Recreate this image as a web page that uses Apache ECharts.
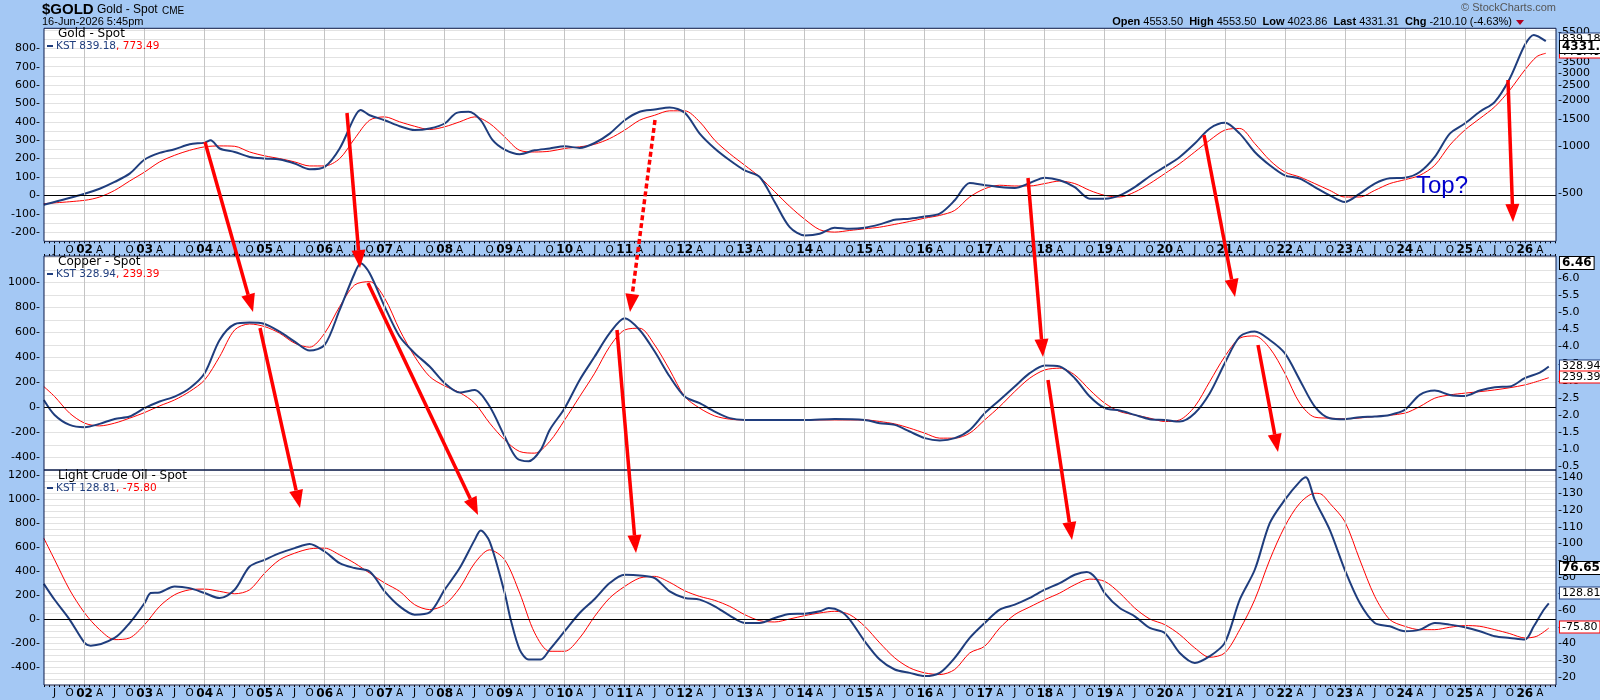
<!DOCTYPE html>
<html><head><meta charset="utf-8">
<script src="https://cdn.jsdelivr.net/npm/echarts@6/dist/echarts.min.js"></script>
<style>html,body{margin:0;padding:0;background:#a4c8f4}#c{width:1600px;height:700px}</style>
</head><body><div id="c"></div>
<script>
// ---------- DATA ----------
const goldKst = [[2001.32,-51],[2002.0,9],[2002.25,36],[2002.5,73],[2002.75,118],[2003.0,195],[2003.25,231],[2003.5,251],[2003.75,278],[2004.0,287],[2004.1,300],[2004.25,255],[2004.5,236],[2004.75,209],[2005.0,200],[2005.25,195],[2005.5,173],[2005.75,142],[2006.0,155],[2006.25,255],[2006.5,427],[2006.6,464],[2006.75,436],[2007.0,409],[2007.25,376],[2007.5,355],[2007.75,364],[2008.0,391],[2008.2,449],[2008.4,455],[2008.6,409],[2008.8,300],[2009.0,249],[2009.25,224],[2009.5,245],[2009.75,255],[2010.0,267],[2010.25,258],[2010.5,285],[2010.75,336],[2011.0,409],[2011.25,455],[2011.5,467],[2011.75,478],[2012.0,449],[2012.25,336],[2012.5,255],[2012.75,191],[2013.0,136],[2013.25,100],[2013.5,-36],[2013.75,-173],[2014.0,-218],[2014.25,-209],[2014.5,-176],[2014.75,-182],[2015.0,-176],[2015.25,-158],[2015.5,-133],[2015.75,-127],[2016.0,-115],[2016.25,-100],[2016.5,-27],[2016.75,67],[2017.0,55],[2017.25,45],[2017.5,40],[2017.75,67],[2018.0,96],[2018.25,82],[2018.5,45],[2018.75,-18],[2019.0,-18],[2019.25,0],[2019.5,45],[2019.75,104],[2020.0,155],[2020.25,209],[2020.5,282],[2020.75,364],[2021.0,395],[2021.25,336],[2021.5,236],[2021.75,164],[2022.0,109],[2022.25,91],[2022.5,45],[2022.75,0],[2023.0,-36],[2023.25,9],[2023.5,64],[2023.75,93],[2024.0,96],[2024.25,127],[2024.5,209],[2024.75,336],[2025.0,391],[2025.25,455],[2025.5,509],[2025.75,636],[2026.0,818],[2026.15,873],[2026.35,839]];
const goldSig = [[2001.32,-45],[2002.0,-27],[2002.25,-9],[2002.5,27],[2002.75,78],[2003.0,127],[2003.25,182],[2003.5,218],[2003.75,245],[2004.0,264],[2004.25,269],[2004.5,267],[2004.75,236],[2005.0,215],[2005.25,200],[2005.5,182],[2005.75,160],[2006.0,160],[2006.25,200],[2006.5,309],[2006.75,409],[2007.0,427],[2007.25,400],[2007.5,376],[2007.75,358],[2008.0,373],[2008.25,400],[2008.5,427],[2008.75,391],[2009.0,318],[2009.25,245],[2009.5,236],[2009.75,240],[2010.0,255],[2010.25,264],[2010.5,278],[2010.75,309],[2011.0,355],[2011.25,409],[2011.5,436],[2011.75,460],[2012.0,460],[2012.25,400],[2012.5,300],[2012.75,227],[2013.0,164],[2013.25,100],[2013.5,20],[2013.75,-60],[2014.0,-130],[2014.25,-187],[2014.5,-200],[2014.75,-191],[2015.0,-182],[2015.25,-173],[2015.5,-158],[2015.75,-142],[2016.0,-124],[2016.25,-109],[2016.5,-82],[2016.75,-9],[2017.0,36],[2017.25,55],[2017.5,51],[2017.75,51],[2018.0,64],[2018.25,78],[2018.5,64],[2018.75,27],[2019.0,0],[2019.25,-9],[2019.5,18],[2019.75,64],[2020.0,118],[2020.25,173],[2020.5,236],[2020.75,300],[2021.0,355],[2021.25,364],[2021.5,282],[2021.75,191],[2022.0,127],[2022.25,100],[2022.5,64],[2022.75,27],[2023.0,-9],[2023.25,-9],[2023.5,27],[2023.75,64],[2024.0,85],[2024.25,109],[2024.5,164],[2024.75,273],[2025.0,355],[2025.25,418],[2025.5,482],[2025.75,573],[2026.0,682],[2026.2,755],[2026.35,773]];
const copperKst = [[2001.32,61],[2001.5,-59],[2001.75,-139],[2002.0,-157],[2002.25,-131],[2002.5,-91],[2002.75,-72],[2003.0,-5],[2003.25,48],[2003.5,88],[2003.75,155],[2004.0,275],[2004.25,541],[2004.5,667],[2004.75,680],[2005.0,669],[2005.25,608],[2005.5,528],[2005.75,456],[2006.0,501],[2006.25,781],[2006.5,1075],[2006.6,1155],[2006.75,1075],[2007.0,808],[2007.25,568],[2007.5,435],[2007.75,328],[2008.0,195],[2008.25,120],[2008.5,141],[2008.75,8],[2009.0,-232],[2009.2,-405],[2009.4,-430],[2009.6,-339],[2009.75,-179],[2010.0,-5],[2010.25,221],[2010.5,408],[2010.75,595],[2011.0,715],[2011.25,621],[2011.5,448],[2011.75,248],[2012.0,88],[2012.25,35],[2012.5,-32],[2012.75,-85],[2013.0,-99],[2013.5,-99],[2014.0,-99],[2014.5,-91],[2015.0,-99],[2015.25,-125],[2015.5,-139],[2015.75,-192],[2016.0,-245],[2016.25,-264],[2016.5,-245],[2016.75,-179],[2017.0,-45],[2017.25,61],[2017.5,168],[2017.75,275],[2018.0,336],[2018.25,328],[2018.5,235],[2018.75,88],[2019.0,-5],[2019.25,-24],[2019.5,-59],[2019.75,-93],[2020.0,-99],[2020.25,-112],[2020.5,-45],[2020.75,115],[2021.0,355],[2021.25,568],[2021.5,608],[2021.75,541],[2022.0,435],[2022.25,221],[2022.5,8],[2022.75,-85],[2023.0,-93],[2023.25,-77],[2023.5,-72],[2023.75,-59],[2024.0,-19],[2024.25,101],[2024.5,136],[2024.75,101],[2025.0,93],[2025.25,136],[2025.5,163],[2025.75,168],[2026.0,235],[2026.25,280],[2026.4,329]];
const copperSig = [[2001.32,168],[2001.5,88],[2001.75,-45],[2002.0,-125],[2002.25,-147],[2002.5,-125],[2002.75,-85],[2003.0,-40],[2003.25,13],[2003.5,61],[2003.75,128],[2004.0,221],[2004.25,408],[2004.5,621],[2004.75,669],[2005.0,648],[2005.25,595],[2005.5,515],[2005.75,483],[2006.0,595],[2006.25,808],[2006.5,981],[2006.75,1008],[2007.0,875],[2007.25,621],[2007.5,408],[2007.75,248],[2008.0,173],[2008.25,120],[2008.5,35],[2008.75,-125],[2009.0,-259],[2009.25,-352],[2009.5,-365],[2009.75,-272],[2010.0,-99],[2010.25,88],[2010.5,275],[2010.75,488],[2011.0,621],[2011.25,635],[2011.5,501],[2011.75,301],[2012.0,88],[2012.25,-5],[2012.5,-67],[2012.75,-93],[2013.0,-99],[2014.0,-99],[2015.0,-99],[2015.25,-112],[2015.5,-131],[2015.75,-165],[2016.0,-205],[2016.25,-245],[2016.5,-245],[2016.75,-205],[2017.0,-99],[2017.25,8],[2017.5,128],[2017.75,235],[2018.0,301],[2018.25,315],[2018.5,261],[2018.75,141],[2019.0,35],[2019.25,-32],[2019.5,-59],[2019.75,-85],[2020.0,-112],[2020.25,-99],[2020.5,8],[2020.75,208],[2021.0,408],[2021.25,555],[2021.5,573],[2021.75,475],[2022.0,275],[2022.25,35],[2022.5,-77],[2022.75,-85],[2023.0,-90],[2023.5,-72],[2024.0,-45],[2024.25,8],[2024.5,75],[2024.75,101],[2025.0,115],[2025.5,141],[2026.0,181],[2026.4,239]];
const crudeKst = [[2001.32,293],[2001.5,160],[2001.75,-5],[2002.0,-200],[2002.1,-222],[2002.5,-158],[2002.75,-34],[2003.0,133],[2003.1,216],[2003.25,221],[2003.5,271],[2003.75,257],[2004.0,216],[2004.25,174],[2004.5,243],[2004.75,437],[2005.0,493],[2005.25,548],[2005.5,590],[2005.75,625],[2006.0,562],[2006.25,465],[2006.5,424],[2006.75,396],[2007.0,230],[2007.25,105],[2007.5,36],[2007.75,55],[2008.0,244],[2008.25,424],[2008.5,659],[2008.6,737],[2008.75,645],[2009.0,216],[2009.1,-5],[2009.25,-255],[2009.4,-338],[2009.6,-338],[2009.75,-255],[2010.0,-102],[2010.25,50],[2010.5,166],[2010.75,299],[2011.0,368],[2011.25,363],[2011.5,341],[2011.75,230],[2012.0,175],[2012.25,161],[2012.5,105],[2012.75,28],[2013.0,-33],[2013.25,-33],[2013.5,8],[2013.75,42],[2014.0,44],[2014.25,64],[2014.4,91],[2014.6,64],[2014.75,-5],[2015.0,-186],[2015.25,-338],[2015.5,-421],[2015.75,-449],[2016.0,-476],[2016.25,-449],[2016.5,-324],[2016.75,-158],[2017.0,-33],[2017.25,78],[2017.5,119],[2017.75,175],[2018.0,244],[2018.25,299],[2018.5,368],[2018.7,391],[2018.85,341],[2019.0,216],[2019.25,91],[2019.5,22],[2019.75,-75],[2020.0,-116],[2020.25,-283],[2020.5,-366],[2020.75,-310],[2021.0,-199],[2021.25,161],[2021.5,410],[2021.75,798],[2022.0,992],[2022.25,1144],[2022.35,1180],[2022.5,992],[2022.75,742],[2023.0,410],[2023.25,133],[2023.5,-33],[2023.75,-61],[2024.0,-102],[2024.25,-89],[2024.5,-33],[2024.75,-47],[2025.0,-69],[2025.25,-102],[2025.5,-144],[2025.75,-158],[2026.0,-172],[2026.15,-61],[2026.3,64],[2026.4,129]];
const crudeSig = [[2001.32,673],[2001.5,493],[2001.75,243],[2002.0,50],[2002.25,-89],[2002.5,-172],[2002.75,-158],[2003.0,-47],[2003.25,105],[2003.5,202],[2003.75,243],[2004.0,249],[2004.25,230],[2004.5,210],[2004.75,243],[2005.0,382],[2005.25,493],[2005.5,548],[2005.75,584],[2006.0,590],[2006.25,534],[2006.5,465],[2006.75,382],[2007.0,300],[2007.25,230],[2007.5,119],[2007.75,78],[2008.0,119],[2008.25,258],[2008.5,465],[2008.75,576],[2009.0,493],[2009.25,216],[2009.5,-116],[2009.75,-269],[2010.0,-269],[2010.25,-158],[2010.5,22],[2010.75,175],[2011.0,271],[2011.25,341],[2011.5,355],[2011.75,305],[2012.0,235],[2012.25,188],[2012.5,155],[2012.75,105],[2013.0,36],[2013.25,-14],[2013.5,-25],[2013.75,0],[2014.0,28],[2014.25,50],[2014.5,64],[2014.75,36],[2015.0,-61],[2015.25,-199],[2015.5,-324],[2015.75,-407],[2016.0,-449],[2016.25,-463],[2016.5,-421],[2016.75,-283],[2017.0,-227],[2017.25,-75],[2017.5,36],[2017.75,100],[2018.0,161],[2018.25,216],[2018.5,285],[2018.75,332],[2019.0,313],[2019.25,216],[2019.5,91],[2019.75,0],[2020.0,-47],[2020.25,-130],[2020.5,-241],[2020.75,-319],[2021.0,-283],[2021.25,-89],[2021.5,161],[2021.75,493],[2022.0,770],[2022.25,964],[2022.5,1047],[2022.6,1042],[2022.75,964],[2023.0,812],[2023.25,493],[2023.5,188],[2023.75,-5],[2024.0,-61],[2024.25,-89],[2024.5,-89],[2024.75,-69],[2025.0,-55],[2025.25,-61],[2025.5,-89],[2025.75,-122],[2026.0,-158],[2026.2,-144],[2026.4,-76]];
const goldPriceTicks = [500,1000,1500,2000,2500,3000,3500,5500];
const copperPriceTicks = [0.5,1.0,1.5,2.0,2.5,3.0,3.5,4.0,4.5,5.0,5.5,6.0];
const crudePriceTicks = [20,30,40,50,60,70,80,90,100,110,120,130,140];
const yearLines = []; for (let y=2002;y<=2026;y++) yearLines.push(y);
const quarterTicks = []; for (let q=2001.5;q<=2026.26;q+=0.25) quarterTicks.push(+q.toFixed(2));
const monthTicks = []; for (let m=2001.333;m<=2026.52;m+=1/12) monthTicks.push(+m.toFixed(4));

// ---------- CHART ----------
const NAVY='#1f3d7d', RED='#ff0000', FONT='DejaVu Sans';
const chart = echarts.init(document.getElementById('c'));
const grids = [{top:28.3,height:213},{top:256,height:214},{top:470,height:215}];
const XMIN=2001.323, XMAX=2026.52;
function xAx(i, show){
  return {type:'value',gridIndex:i,min:XMIN,max:XMAX,position:'bottom',
    axisLine:{show:false,onZero:false},splitLine:{show:false},
    axisTick:{show:show,customValues:monthTicks,length:2,inside:false,lineStyle:{color:'#000'}},
    axisLabel:{show:show,customValues:quarterTicks,margin:3,fontFamily:FONT,fontSize:10.5,color:'#000',
      formatter:v=>{const f=Math.round((v-Math.floor(v+1e-6))*4);const yr=Math.round(v);
        return f===0?'{b|'+String(yr%100).padStart(2,'0')+'}':['','A','J','O'][f];},
      rich:{b:{fontWeight:'bold',fontSize:12,fontFamily:FONT}}}};
}
function xTop(i){
  return {type:'value',gridIndex:i,min:XMIN,max:XMAX,position:'top',
    axisLine:{show:false,onZero:false},splitLine:{show:false},axisLabel:{show:false},
    axisTick:{show:true,customValues:monthTicks,length:2,lineStyle:{color:'#000'}}};
}
function yLeft(i,min,max,iv,lo,hi,step){
  return {type:'value',gridIndex:i,min,max,interval:iv,position:'left',
    axisLine:{show:false},axisTick:{show:false},
    splitLine:{show:true,lineStyle:{color:'#e2e2e2',width:1}},
    axisLabel:{fontFamily:FONT,fontSize:11,color:'#000',margin:4,
      formatter:v=>(Math.abs(v%step)<1e-6&&v>=lo&&v<=hi)?(v+'-'):''}};
}
function yRight(i,min,max,vals,fmt){
  return {type:'value',gridIndex:i,min,max,position:'right',
    axisLine:{show:false},splitLine:{show:false},
    axisTick:{show:false},
    axisLabel:{customValues:vals,fontFamily:FONT,fontSize:11,color:'#000',margin:2,formatter:v=>'-'+fmt(v)}};
}
const zeroML = {silent:true,symbol:'none',label:{show:false},lineStyle:{color:'#000',width:1,type:'solid'},data:[{yAxis:0}]};
const yearML = {silent:true,symbol:'none',label:{show:false},lineStyle:{color:'#c4c4c4',width:1,type:'solid'},data:yearLines.map(y=>({xAxis:y}))};
function pair(i,blue,red){
  return [
    {type:'line',xAxisIndex:i,yAxisIndex:i,data:red,smooth:0.3,showSymbol:false,lineStyle:{color:RED,width:1},markLine:yearML,z:2,animation:false},
    {type:'line',xAxisIndex:i,yAxisIndex:i,data:blue,smooth:0.3,showSymbol:false,lineStyle:{color:NAVY,width:2},markLine:zeroML,z:3,animation:false}
  ];
}
// annotation arrows (pixel annotations)
const arrows=[[205,142,253,312,0],[347,113,360,268,0],[655,120,630,312,1],[260,328,300,508,0],[368,283,478,515,0],[617,330,636,553,0],[1028,178,1043,357,0],[1204,135,1235,297,0],[1048,380,1072,540,0],[1258,345,1278,452,0],[1508,80,1513,222,0]];
const gfx=[];
arrows.forEach(([x1,y1,x2,y2,d])=>{
  const a=Math.atan2(y2-y1,x2-x1),L=18,W=7;
  const bx=x2-L*Math.cos(a),by=y2-L*Math.sin(a);
  gfx.push({type:'line',shape:{x1,y1,x2:bx,y2:by},style:{stroke:RED,lineWidth:3.5,lineDash:d?[5,3]:null},z:50});
  gfx.push({type:'polygon',shape:{points:[[x2,y2],[bx+W*Math.sin(a),by-W*Math.cos(a)],[bx-W*Math.sin(a),by+W*Math.cos(a)]]},style:{fill:RED},z:50});
});
// frames
grids.forEach(g=>gfx.push({type:'rect',shape:{x:44,y:g.top,width:1512,height:g.height},style:{fill:null,stroke:'#0a1a4a',lineWidth:1},z:40,silent:true}));
function txt(x,y,text,o){gfx.push({type:'text',x,y,style:Object.assign({text,fontFamily:FONT,fontSize:11,fill:'#000'},o||{}),z:60});}
txt(42,2,'$GOLD',{fontSize:15,fontWeight:'bold',fontFamily:'Liberation Sans'});
txt(97,4,'Gold - Spot',{fontSize:12,fontFamily:'Liberation Sans'});
txt(162,6,'CME',{fontSize:10,fontFamily:'Liberation Sans'});
txt(42,16,'16-Jun-2026 5:45pm',{fontSize:11,fontFamily:'Liberation Sans'});
txt(1556,2,'© StockCharts.com',{fontSize:11,fill:'#555',align:'right',fontFamily:'Liberation Sans'});
gfx.push({type:'text',x:1512,y:16,style:{align:'right',fontFamily:'Liberation Sans',fontSize:11,
  text:'{b|Open} 4553.50  {b|High} 4553.50  {b|Low} 4023.86  {b|Last} 4331.31  {b|Chg} -210.10 (-4.63%)',
  rich:{b:{fontWeight:'bold',fontSize:11,fontFamily:'Liberation Sans'}}},z:60});
gfx.push({type:'polygon',shape:{points:[[1516,20],[1524,20],[1520,25]]},style:{fill:'#b00020'},z:60});
function legend(y,title,a,b){
  txt(58,y,title,{fontSize:12});
  gfx.push({type:'rect',shape:{x:47,y:y+17,width:6,height:2},style:{fill:NAVY},z:60});
  gfx.push({type:'text',x:56,y:y+13,style:{text:'{n|KST '+a+'}{r|, '+b+'}',rich:{n:{fill:NAVY,fontSize:10.5,fontFamily:FONT},r:{fill:RED,fontSize:10.5,fontFamily:FONT}}},z:60});
}
legend(28,'Gold - Spot','839.18','773.49');
legend(256,'Copper - Spot','328.94','239.39');
legend(470,'Light Crude Oil - Spot','128.81','-75.80');
function box(y,text,border,bold,col){
  gfx.push({type:'text',x:1560,y:y,style:{text,fontFamily:FONT,fontSize:bold?12:11,fontWeight:bold?'bold':'normal',fill:col||'#000',
    backgroundColor:'#fff',borderColor:border,borderWidth:1,padding:[0,2],verticalAlign:'middle'},z:70});
}
box(52,'773.49',RED,false);
box(39,'839.18',NAVY,false);
box(47,'4331.31','#000',true);
box(263,'6.46','#000',true);
box(366,'328.94',NAVY,false);
box(377,'239.39',RED,false);
box(568,'76.65','#000',true);
box(593,'128.81',NAVY,false);
box(627,'-75.80',RED,false);
txt(1416,174,'Top?',{fontSize:24,fill:'#0000cc',fontFamily:'Liberation Sans'});

chart.setOption({
  backgroundColor:'#a4c8f4',animation:false,
  grid:grids.map(g=>({left:44,right:44,top:g.top,height:g.height,show:true,backgroundColor:'#fff',borderWidth:0})),
  xAxis:[xAx(0,true),xAx(1,false),xAx(2,true),xTop(1)],
  yAxis:[yLeft(0,-250,909,50,-200,800,100),yLeft(1,-500,1213,100,-400,1000,200),yLeft(2,-550,1241,50,-400,1200,200),
    yRight(0,2.384,3.765,goldPriceTicks.map(v=>Math.log10(v)),v=>Math.round(Math.pow(10,v))),
    yRight(1,0.40,6.64,copperPriceTicks,v=>v.toFixed(1)),
    yRight(2,15,144.05,crudePriceTicks,v=>String(Math.round(v)))],
  series:[...pair(0,goldKst,goldSig),...pair(1,copperKst,copperSig),...pair(2,crudeKst,crudeSig)],
  graphic:gfx
});
</script></body></html>
